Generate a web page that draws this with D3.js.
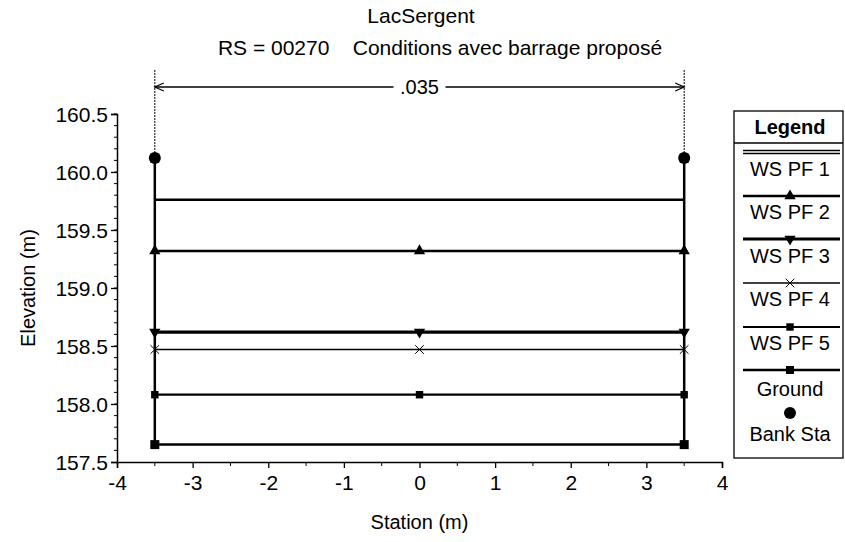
<!DOCTYPE html>
<html>
<head>
<meta charset="utf-8">
<script src="https://cdn.jsdelivr.net/npm/d3@7"></script>
<style>
  body { margin: 0; background: #fff; }
  text { font-family: "Liberation Sans", Arial, sans-serif; fill: #000; }
</style>
</head>
<body>
<svg id="chart" width="845" height="542"></svg>
<script>
// cross-section data
const stations = [-3.5, 0, 3.5];
const seriesNames = ['WS PF 1', 'WS PF 2', 'WS PF 3', 'WS PF 4', 'WS PF 5'];
const wsElev = [159.76, 159.32, 158.62, 158.47, 158.08];
const groundStation = [-3.5, -3.5, 3.5, 3.5];
const groundElev = [160.12, 157.65, 157.65, 160.12];
const bankStation = [-3.5, 3.5];
const bankElev = [160.12, 160.12];
const xTicks = [-4, -3, -2, -1, 0, 1, 2, 3, 4];
const yTicks = [157.5, 158.0, 158.5, 159.0, 159.5, 160.0, 160.5];
const nValue = '.035';

let svg = d3.select('svg#chart'),
    margin = {top: 114, right: 123, bottom: 80, left: 117},
    width = +svg.attr('width'),
    height = +svg.attr('height');

let xScale = d3.scaleLinear().domain([-4, 4]).range([margin.left, width - margin.right]);
let yScale = d3.scaleLinear().domain([157.5, 160.5]).range([height - margin.bottom, margin.top]);

// titles
svg.append('text').attr('x', 421).attr('y', 23).attr('text-anchor', 'middle')
    .style('font-size', '21px').text('LacSergent');
svg.append('text').attr('x', 440).attr('y', 55).attr('text-anchor', 'middle')
    .style('font-size', '21px').style('white-space', 'pre')
    .text('RS = 00270    Conditions avec barrage proposé');

// Manning n band above the plot
let bandY = 87;
svg.append('line').attr('x1', xScale(-3.5)).attr('x2', xScale(3.5))
    .attr('y1', bandY).attr('y2', bandY).attr('stroke', '#000').attr('stroke-width', 1.3);
bankStation.forEach(function (s, i) {
    svg.append('line').attr('x1', xScale(s)).attr('x2', xScale(s))
        .attr('y1', 70).attr('y2', yScale(bankElev[i]))
        .attr('stroke', '#000').attr('stroke-width', 1).attr('stroke-dasharray', '2,1');
    let dir = i === 0 ? 1 : -1;
    svg.append('path')
        .attr('d', 'M' + (xScale(s) + dir * 9) + ',' + (bandY - 4) + 'L' + xScale(s) + ',' + bandY + 'L' + (xScale(s) + dir * 9) + ',' + (bandY + 4))
        .attr('fill', 'none').attr('stroke', '#000').attr('stroke-width', 1.2);
});
svg.append('rect').attr('x', xScale(0) - 26).attr('y', bandY - 10).attr('width', 52).attr('height', 20).attr('fill', '#fff');
svg.append('text').attr('x', xScale(0)).attr('y', bandY + 7).attr('text-anchor', 'middle')
    .style('font-size', '20px').text(nValue);

// Axes
let yAxis = d3.axisLeft(yScale).tickValues(yTicks).tickFormat(d3.format('.1f')).tickSize(6);
let gy = svg.append('g').attr('transform', 'translate(' + margin.left + ',0)').call(yAxis);
let xAxis = d3.axisBottom(xScale).tickValues(xTicks).tickFormat(d3.format('d')).tickSize(6);
let gx = svg.append('g').attr('transform', 'translate(0,' + (height - margin.bottom) + ')').call(xAxis);
[gx, gy].forEach(function (g) {
    g.select('.domain').attr('stroke', '#000').attr('stroke-width', 1.5);
    g.selectAll('.tick line').attr('stroke', '#000').attr('stroke-width', 1.3);
    g.selectAll('.tick text').style('font-family', '"Liberation Sans", Arial, sans-serif')
        .style('font-size', '21px').attr('fill', '#000');
});
gy.selectAll('.tick text').attr('x', -9).attr('dy', '0.36em');
gx.selectAll('.tick text').attr('y', 13);
gx.selectAll('.tick text').text(function (d) { return d < 0 ? '-' + Math.abs(d) : d; });

// minor ticks
d3.range(157.6, 160.5, 0.1).forEach(function (v) {
    svg.append('line').attr('x1', margin.left - 3).attr('x2', margin.left)
        .attr('y1', yScale(v)).attr('y2', yScale(v)).attr('stroke', '#000').attr('stroke-width', 1);
});
d3.range(-3.5, 4, 1).forEach(function (v) {
    svg.append('line').attr('x1', xScale(v)).attr('x2', xScale(v))
        .attr('y1', height - margin.bottom).attr('y2', height - margin.bottom + 4)
        .attr('stroke', '#000').attr('stroke-width', 1);
});

svg.append('text').attr('x', xScale(0)).attr('y', 529).attr('text-anchor', 'middle')
    .style('font-size', '20px').text('Station (m)');
svg.append('text').attr('transform', 'translate(35,' + yScale(159) + ') rotate(-90)')
    .attr('text-anchor', 'middle').style('font-size', '20px').text('Elevation (m)');

// marker shapes
let symbols = [null, d3.symbolTriangle, d3.symbolTriangle, d3.symbolX, d3.symbolSquare];
let symbolRot = [0, 0, 180, 0, 0];
let lineWidths = [2.5, 2.5, 3.2, 1.5, 2.2];
let marker = function (g, i, x, y) {
    if (!symbols[i]) return;
    let stroke = symbols[i] === d3.symbolX;
    g.append('path').attr('d', d3.symbol(symbols[i], stroke ? 50 : 55)())
        .attr('transform', 'translate(' + x + ',' + y + ') rotate(' + symbolRot[i] + ')')
        .attr('fill', stroke ? 'none' : '#000').attr('stroke', '#000').attr('stroke-width', stroke ? 1 : 0);
};

let plot = svg.append('g');
let line = d3.line().x(function (d) { return xScale(d[0]); }).y(function (d) { return yScale(d[1]); });

// water surfaces
wsElev.forEach(function (e, i) {
    plot.append('path').datum(stations.map(function (s) { return [s, e]; }))
        .attr('d', line).attr('fill', 'none').attr('stroke', '#000').attr('stroke-width', lineWidths[i]);
    stations.forEach(function (s) { marker(plot, i, xScale(s), yScale(e)); });
});

// ground
plot.append('path').datum(groundStation.map(function (s, i) { return [s, groundElev[i]]; }))
    .attr('d', line).attr('fill', 'none').attr('stroke', '#000').attr('stroke-width', 2.5);
groundStation.forEach(function (s, i) {
    plot.append('rect').attr('x', xScale(s) - 4.5).attr('y', yScale(groundElev[i]) - 4.5)
        .attr('width', 9).attr('height', 9).attr('fill', '#000');
});
// bank stations
bankStation.forEach(function (s, i) {
    plot.append('circle').attr('cx', xScale(s)).attr('cy', yScale(bankElev[i])).attr('r', 6).attr('fill', '#000');
});

// Legend
let lg = svg.append('g');
let lx = 734, lw = 109, lTop = 111, lBot = 458;
lg.append('rect').attr('x', lx).attr('y', lTop).attr('width', lw).attr('height', lBot - lTop)
    .attr('fill', '#fff').attr('stroke', '#000').attr('stroke-width', 1.3);
lg.append('line').attr('x1', lx).attr('x2', lx + lw).attr('y1', 143).attr('y2', 143).attr('stroke', '#000').attr('stroke-width', 1.3);
lg.append('text').attr('x', 790).attr('y', 134).attr('text-anchor', 'middle')
    .style('font-size', '20px').style('font-weight', 'bold').text('Legend');
let rowLine = [152, 196, 239, 283, 327];
let rowText = [175.5, 219, 262.5, 306, 349.5];
seriesNames.forEach(function (n, i) {
    let y = rowLine[i];
    if (i === 0) {
        lg.append('line').attr('x1', 743).attr('x2', 840).attr('y1', y - 1.5).attr('y2', y - 1.5).attr('stroke', '#000').attr('stroke-width', 1.3);
        lg.append('line').attr('x1', 743).attr('x2', 840).attr('y1', y + 1.5).attr('y2', y + 1.5).attr('stroke', '#000').attr('stroke-width', 1.3);
    } else {
        lg.append('line').attr('x1', 743).attr('x2', 840).attr('y1', y).attr('y2', y).attr('stroke', '#000').attr('stroke-width', lineWidths[i]);
    }
    marker(lg, i, 790, y);
    lg.append('text').attr('x', 790).attr('y', rowText[i]).attr('text-anchor', 'middle')
        .style('font-size', '20px').text(n);
});
lg.append('line').attr('x1', 743).attr('x2', 840).attr('y1', 370).attr('y2', 370).attr('stroke', '#000').attr('stroke-width', 2.5);
lg.append('rect').attr('x', 786).attr('y', 366).attr('width', 8).attr('height', 8).attr('fill', '#000');
lg.append('text').attr('x', 790).attr('y', 395.5).attr('text-anchor', 'middle').style('font-size', '20px').text('Ground');
lg.append('circle').attr('cx', 790).attr('cy', 413).attr('r', 6).attr('fill', '#000');
lg.append('text').attr('x', 790).attr('y', 440.5).attr('text-anchor', 'middle').style('font-size', '20px').text('Bank Sta');
</script>
</body>
</html>
